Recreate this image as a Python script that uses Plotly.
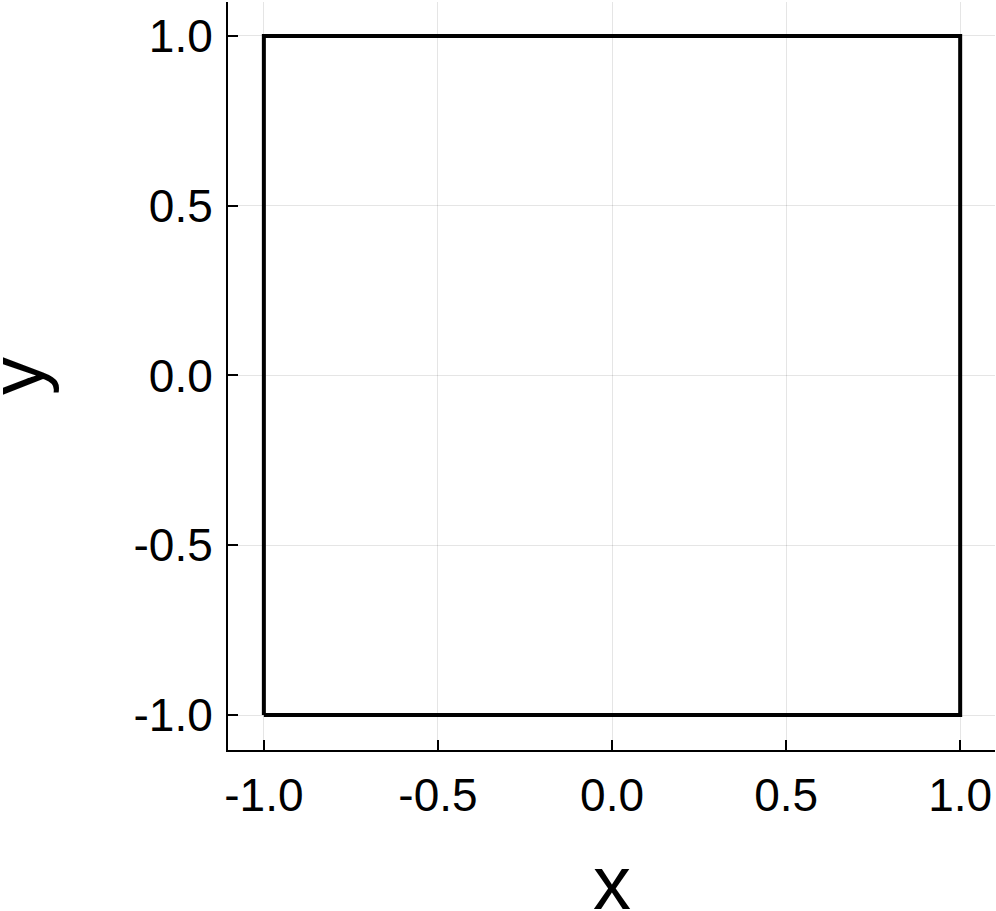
import plotly.graph_objects as go

# square outline corners
square_x = [-1, 1, 1, -1, -1]
square_y = [-1, -1, 1, 1, -1]

tick_vals = [-1.0, -0.5, 0.0, 0.5, 1.0]
tick_text = ['-1.0', '-0.5', '0.0', '0.5', '1.0']

x_label = 'x'
y_label = 'y'

fig = go.Figure()

fig.add_trace(go.Scatter(
    x=square_x,
    y=square_y,
    mode='lines',
    line=dict(color='black', width=4),
    showlegend=False,
    hoverinfo='skip'
))

axis_style = dict(
    tickvals=tick_vals,
    ticktext=tick_text,
    showgrid=True,
    gridcolor='rgba(0,0,0,0.1)',
    gridwidth=1,
    zeroline=False,
    showline=True,
    linecolor='black',
    linewidth=2,
    mirror=False,
    ticks='inside',
    ticklen=10,
    tickwidth=1.5,
    tickcolor='black',
    tickfont=dict(size=46, color='black'),
    ticklabelstandoff=4,
    automargin=False,
)

# axis titles as annotations so they can sit right at the page edge
fig.add_annotation(
    text=x_label, xref='paper', yref='paper', x=0.5, y=0,
    xanchor='center', yanchor='middle', yshift=-132,
    showarrow=False, font=dict(size=76, color='black')
)
fig.add_annotation(
    text=y_label, xref='paper', yref='paper', x=0, y=0.5,
    xanchor='center', yanchor='middle', xshift=-212, textangle=-90,
    showarrow=False, font=dict(size=76, color='black')
)

fig.update_layout(
    width=996,
    height=911,
    margin=dict(l=228, r=1, t=2, b=161),
    paper_bgcolor='white',
    plot_bgcolor='white',
    font=dict(family='Liberation Sans, Arial, sans-serif', color='black'),
    xaxis=dict(**axis_style, range=[-1.103, 1.1]),
    yaxis=dict(**axis_style, range=[-1.103, 1.1]),
)

# drop the default 8px page margin so the figure fills the window
fig.write_html(
    "out.html",
    config={'displayModeBar': False},
    post_script="document.body.style.margin='0';document.body.style.overflow='hidden';"
)
